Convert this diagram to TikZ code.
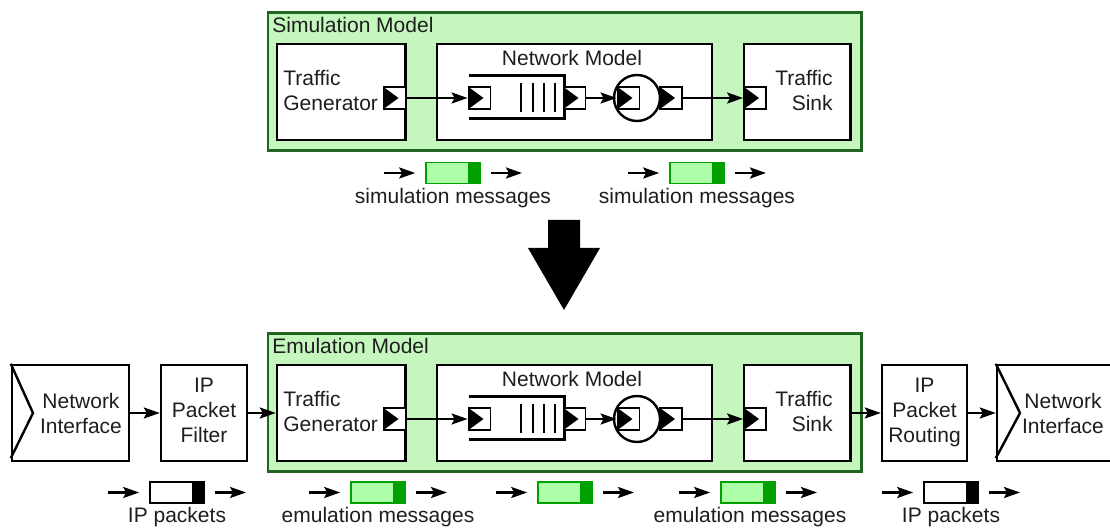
\documentclass[tikz,border=0pt]{standalone}
\usepackage{fontspec}
\setmainfont{Liberation Sans}
\usetikzlibrary{arrows.meta,fit}
\definecolor{grpfill}{RGB}{196,246,190}
\definecolor{grpline}{RGB}{34,100,34}
\definecolor{msgfill}{RGB}{172,255,168}
\definecolor{msgdark}{RGB}{0,160,0}
\definecolor{txt}{RGB}{30,30,30}
\tikzset{
  lbl/.style={font=\fontsize{10.5}{12.5}\selectfont, text=txt, inner sep=0pt},
  grp/.style={draw=grpline, fill=grpfill, line width=1.3pt, inner sep=0pt},
  blk/.style={draw, fill=white, line width=1.2pt, inner sep=0pt},
  port/.style={draw, fill=white, line width=0.9pt, inner sep=0pt, minimum size=11pt,
    path picture={\fill[black] (path picture bounding box.north west)
      -- (path picture bounding box.south west)
      -- ([xshift=7.5pt]path picture bounding box.west) -- cycle;}},
  server/.style={circle, draw, line width=1.2pt, inner sep=0pt, minimum size=23pt},
  msgbox/.style={draw=#1, line width=0.8pt, inner sep=0pt,
    path picture={\fill[#1] ([xshift=-6pt]path picture bounding box.north east)
      rectangle (path picture bounding box.south east);}},
  arr/.style={line width=1.2pt, -{Stealth[length=8pt,width=5.5pt,inset=1.5pt]}},
}
\newcommand\port[3]{
    \node[port] (#1) at (#2,#3) {};
}
\newcommand\model[3]{
    \node[grp, fit={(268,12.5+#2) (861.5,150.5+#2)}] (#1) {};
    \node[lbl, anchor=base west] (#1lbl) at (272,33+#2) {#3};
    \node[blk, fit={(277,44+#2) (405.5,140+#2)}] (#1tg) {};
    \node[blk, fit={(437,44+#2) (712,140+#2)}] (#1net) {};
    \node[blk, fit={(744,44+#2) (850.5,140+#2)}] (#1snk) {};
    \node[lbl, anchor=north west, align=left] (#1tgtxt) at (283,70+#2) {Traffic\\Generator};
    \node[lbl, anchor=base] (#1nettxt) at (572,66+#2) {Network Model};
    \node[lbl, anchor=north east, align=right] (#1snktxt) at (833,70+#2) {Traffic\\Sink};
    \node[inner sep=0pt, fit={(469,76+#2) (564,118+#2)}] (#1q) {};
    \draw[line width=1.2pt] (#1q.north west) -- (#1q.north east) -- (#1q.south east) -- (#1q.south west);
    \foreach \x in {521,533,544,555}
        \draw[line width=1.2pt] (\x,83+#2) -- (\x,112+#2);
    \node[server] (#1srv) at (637,98+#2) {};
    \port{#1tgout}{394.5}{98+#2}
    \port{#1qin}{479.5}{98+#2}
    \port{#1qout}{574.5}{98+#2}
    \port{#1srvin}{628.5}{98+#2}
    \port{#1srvout}{671}{98+#2}
    \port{#1snkin}{755}{98+#2}
    \draw[arr] (#1tgout.east) -- (#1qin.west);
    \draw[arr] (#1qout.east) -- (#1srvin.west);
    \draw[arr] (#1srvout.east) -- (#1snkin.west);
}
\newcommand\msg[5]{
    \node[msgbox=#5, fill=#4, fit={(#2-27,#3-10.5) (#2+27,#3+10.5)}] (#1) {};
    \coordinate (#1in) at (#2-69,#3);
    \coordinate (#1out) at (#2+69,#3);
    \draw[arr] (#1in) -- ([xshift=-5pt]#1.west);
    \draw[arr] ([xshift=5pt]#1.east) -- (#1out);
}

\begin{document}
\begin{tikzpicture}[x=0.5pt,y=-0.5pt]
\useasboundingbox (0,0) rectangle (1110,528);

\model{sim}{0}{Simulation Model}
\msg{simm1}{453}{173}{msgfill}{msgdark}
\msg{simm2}{697}{173}{msgfill}{msgdark}
\node[lbl, anchor=base] (simm1txt) at (453,203.5) {simulation messages};
\node[lbl, anchor=base] (simm2txt) at (697,203.5) {simulation messages};

\fill (548,220) -- (580,220) -- (580,248) -- (600,248) -- (564,310)
    -- (528,248) -- (548,248) -- cycle;

\model{emu}{321}{Emulation Model}

\node[blk, fit={(12,365) (129,461)}] (nicin) {};
\draw[line width=1.2pt] (nicin.north west) -- (33,413) -- ([yshift=2pt]nicin.south west);
\node[lbl, anchor=north, align=center] (nicintxt) at (81,393) {Network\\Interface};
\node[blk, fit={(161,365) (247,461)}] (filter) {};
\node[lbl, anchor=north, align=center] (filtertxt) at (204,378) {IP\\Packet\\Filter};
\node[blk, fit={(882,365) (967,461)}] (routing) {};
\node[lbl, anchor=north, align=center] (routingtxt) at (924.5,378) {IP\\Packet\\Routing};
\node[blk, fit={(997,365) (1116,461)}] (nicout) {};
\draw[line width=1.2pt] (nicout.north west) -- (1020,413) -- ([yshift=2pt]nicout.south west);
\node[lbl, anchor=north, align=center] (nicouttxt) at (1063,393) {Network\\Interface};

\draw[arr] (nicin.east) -- (filter.west);
\draw[arr] (filter.east) -- (emutg.west);
\draw[arr] (emusnk.east) -- (routing.west);
\draw[arr] (routing.east) -- (nicout.west);

\msg{ipa}{177}{492.5}{white}{black}
\msg{emum1}{378}{492.5}{msgfill}{msgdark}
\msg{emum2}{565}{492.5}{msgfill}{msgdark}
\msg{emum3}{748}{492.5}{msgfill}{msgdark}
\msg{ipb}{951}{492.5}{white}{black}
\node[lbl, anchor=base] (ipatxt) at (177,523) {IP packets};
\node[lbl, anchor=base] (emum1txt) at (378,523) {emulation messages};
\node[lbl, anchor=base] (emum3txt) at (750,523) {emulation messages};
\node[lbl, anchor=base] (ipbtxt) at (951,523) {IP packets};
\end{tikzpicture}
\end{document}
